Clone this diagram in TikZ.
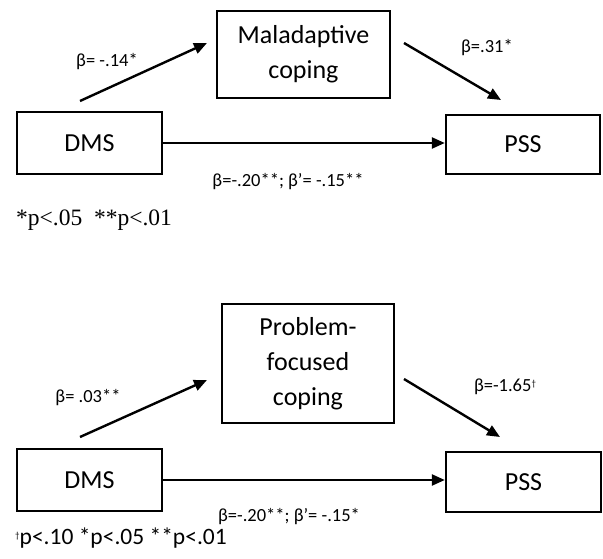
\documentclass[tikz,border=0pt]{standalone}
\usepackage{fontspec}
\setmainfont{Carlito}
\newfontfamily\timesfont{Liberation Serif}
\usetikzlibrary{arrows.meta}
\newcommand{\dagsup}{\raisebox{0.55ex}{\fontsize{9}{9}\selectfont †}}
\begin{document}
\begin{tikzpicture}[x=1pt,y=-1pt,
  box/.style={draw=black, line width=2.4pt, fill=white, inner sep=0pt, align=center,
    font=\fontsize{26}{35}\selectfont},
  conn/.style={line width=2.4pt, -{Triangle[length=13pt,width=11pt]}},
  coef/.style={font=\fontsize{18.5}{22}\selectfont, inner sep=0pt},
  note/.style={anchor=west, inner sep=0pt}]
\useasboundingbox (0,0) rectangle (603,559);
% ---------- top panel ----------
\node[box, minimum width=173pt, minimum height=87pt] (mal) at (303.5,54.5) {Maladaptive\\coping};
\node[box, minimum width=145pt, minimum height=62pt] (dmsA) at (89.5,143) {DMS};
\node[box, minimum width=154pt, minimum height=59pt] (pssA) at (523,144.5) {PSS};
\coordinate (a1s) at (80,101);
\coordinate (a1e) at (207,43);
\coordinate (a2s) at (404,43);
\coordinate (a2e) at (501,100);
\draw[conn] (a1s) -- (a1e);
\draw[conn] (a2s) -- (a2e);
\draw[conn] (dmsA.east) -- (dmsA.east -| pssA.west);
\node[coef] (lA1) at (107,62) {β= -.14*};
\node[coef] (lA2) at (487,48) {β=.31*};
\node[coef] (lA3) at (288,182) {β=-.20**; β’= -.15**};
\node[note, font=\timesfont\fontsize{23.5}{28}\selectfont] (fnA) at (16,220) {*p<.05 \ **p<.01};
% ---------- bottom panel ----------
\node[box, minimum width=172pt, minimum height=119pt] (prob) at (308,363.5) {Problem-\\focused\\coping};
\node[box, minimum width=145pt, minimum height=62pt] (dmsB) at (89.5,480) {DMS};
\node[box, minimum width=155pt, minimum height=60pt] (pssB) at (523.5,482) {PSS};
\coordinate (b1s) at (80,437);
\coordinate (b1e) at (207,380);
\coordinate (b2s) at (404,379);
\coordinate (b2e) at (500,437);
\draw[conn] (b1s) -- (b1e);
\draw[conn] (b2s) -- (b2e);
\draw[conn] (dmsB.east) -- (dmsB.east -| pssB.west);
\node[coef] (lB1) at (88,398) {β= .03**};
\node[coef] (lB2) at (505,387) {β=-1.65\dagsup};
\node[coef] (lB3) at (289,517) {β=-.20**; β’= -.15*};
\node[note, font=\fontsize{23.5}{28}\selectfont] (fnB) at (15,538) {\dagsup p<.10 *p<.05 **p<.01};
\end{tikzpicture}
\end{document}
